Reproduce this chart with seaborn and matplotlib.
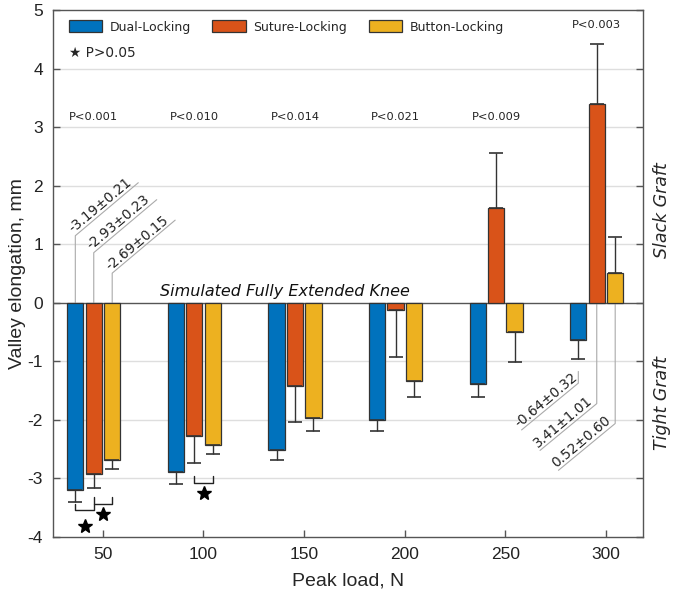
import numpy as np
import pandas as pd
import seaborn as sns
import matplotlib
matplotlib.use("Agg")
from matplotlib import pyplot as plt

# data
loads = ["50", "100", "150", "200", "250", "300"]
methods = ["Dual-Locking", "Suture-Locking", "Button-Locking"]
dual_mean = [-3.19, -2.89, -2.51, -2.00, -1.38, -0.64]
dual_sd = [0.21, 0.21, 0.17, 0.18, 0.23, 0.32]
suture_mean = [-2.93, -2.27, -1.42, -0.12, 1.62, 3.41]
suture_sd = [0.23, 0.47, 0.61, 0.80, 0.94, 1.01]
button_mean = [-2.69, -2.42, -1.97, -1.34, -0.50, 0.52]
button_sd = [0.15, 0.16, 0.22, 0.27, 0.51, 0.60]
p_labels = ["P<0.001", "P<0.010", "P<0.014", "P<0.021", "P<0.009", "P<0.003"]
p_y = [3.18, 3.18, 3.18, 3.18, 3.18, 4.75]
colors = ["#0072BD", "#D95319", "#EDB120"]

means = [dual_mean, suture_mean, button_mean]
sds = [dual_sd, suture_sd, button_sd]

df = pd.DataFrame({
    "load": loads * 3,
    "method": np.repeat(methods, len(loads)),
    "value": dual_mean + suture_mean + button_mean,
})

sns.set_theme(style="white")
plt.rcParams["font.family"] = ["DejaVu Sans"]
plt.rcParams["axes.unicode_minus"] = False

fig = plt.figure(figsize=(6.74, 5.96), dpi=100)
ax = fig.add_axes([0.0782, 0.099, 0.8754, 0.8834])

for y in [-3, -2, -1, 1, 2, 3, 4]:
    ax.axhline(y, color="#dedede", lw=1.0, zorder=0)
ax.axhline(0, color="#555555", lw=1.0, zorder=1)

sns.barplot(data=df, x="load", y="value", hue="method", order=loads,
            hue_order=methods, palette=colors, errorbar=None, width=0.55,
            gap=0.12, edgecolor="#333333", linewidth=0.9, saturation=1,
            ax=ax, zorder=2)

# one-sided error bars (away from zero)
bar_conts = list(ax.containers)[:3]
centers = []
for i, cont in enumerate(bar_conts):
    xs = np.array([b.get_x() + b.get_width() / 2 for b in cont])
    centers.append(xs)
    m = np.array(means[i])
    s = np.array(sds[i])
    lower = np.where(m < 0, s, 0)
    upper = np.where(m >= 0, s, 0)
    ax.errorbar(xs, m, yerr=[lower, upper], fmt="none", ecolor="#333333",
                elinewidth=1.0, capsize=5, capthick=1.2, zorder=3)

# p-values above each group
for k, (lab, yy) in enumerate(zip(p_labels, p_y)):
    ax.text(k, yy, lab, ha="center", va="center", fontsize=8.2, color="#222222")

# significance brackets
def bracket(x1, x2, ytop, h, star_y):
    ax.plot([x1, x1, x2, x2], [ytop, ytop - h, ytop - h, ytop],
            color="#222222", lw=1.0, zorder=4)
    ax.plot([(x1 + x2) / 2], [star_y], marker="*", color="black",
            markersize=10, zorder=4)

bracket(centers[0][0], centers[1][0], -3.43, 0.11, -3.82)
bracket(centers[1][0], centers[2][0], -3.32, 0.12, -3.61)
bracket(centers[1][1], centers[2][1], -2.96, 0.11, -3.24)

# leader-line value labels
def leader(x, y0, y1, dx, dy, text):
    ax.plot([x, x, x + dx], [y0, y1, y1 + dy], color="#aaaaaa", lw=0.8, zorder=1)
    if dx > 0:
        ax.text(x, y1, text, rotation=40, rotation_mode="anchor",
                ha="left", va="bottom", fontsize=9.8, color="#222222")
    else:
        ax.text(x + dx, y1 + dy, text, rotation=40, rotation_mode="anchor",
                ha="left", va="bottom", fontsize=9.8, color="#222222")

for i, yv in enumerate([1.15, 0.86, 0.51]):
    leader(centers[i][0], 0, yv, 0.626, 0.906,
           f"{means[i][0]:.2f}\u00b1{sds[i][0]:.2f}")
right_start = [-1.17, 0, 0]
right_end = [-1.37, -1.72, -2.06]
for i in range(3):
    leader(centers[i][5], right_start[i], right_end[i], -0.564, -0.80,
           f"{means[i][5]:.2f}\u00b1{sds[i][5]:.2f}")

ax.text(1.9, 0.07, "Simulated Fully Extended Knee", ha="center", va="bottom",
        fontsize=11.5, style="italic", color="#111111")
ax.text(1.033, 0.62, "Slack Graft", transform=ax.transAxes, rotation=90,
        ha="center", va="center", fontsize=12.5, style="italic")
ax.text(1.033, 0.255, "Tight Graft", transform=ax.transAxes, rotation=90,
        ha="center", va="center", fontsize=12.5, style="italic")

# legend
handles, labels = ax.get_legend_handles_labels()
ax.legend(handles, labels, loc="upper left", bbox_to_anchor=(0.01, 1.0),
          ncol=3, frameon=False, fontsize=9, handlelength=2.7,
          handleheight=1.1, handletextpad=0.6, columnspacing=1.7,
          borderaxespad=0.4)
ax.text(0.028, 0.919, "\u2605 P>0.05", transform=ax.transAxes, ha="left",
        va="center", fontsize=9.8)

ax.set_ylim(-4, 5)
ax.set_xlim(-0.408, 5.457)
ax.set_yticks(range(-4, 6))
ax.set_xticks(np.arange(len(loads)) + 0.09)
ax.set_xticklabels(loads)
ax.tick_params(axis="both", direction="in", length=5, width=1,
               color="#555555", pad=7, labelsize=12.5,
               labelfontfamily="Liberation Sans", labelcolor="#222222")
ax.tick_params(axis="y", right=True, left=True)
ax.tick_params(axis="x", bottom=True)
for sp in ax.spines.values():
    sp.set_color("#555555")
    sp.set_linewidth(1.0)

ax.set_xlabel("Peak load, N", fontfamily="Liberation Sans", fontsize=14)
ax.set_ylabel("Valley elongation, mm", fontfamily="Liberation Sans", fontsize=14)
ax.yaxis.set_label_coords(-0.045, 0.5)
ax.xaxis.set_label_coords(0.5, -0.068)

fig.savefig("out.png", dpi=100)
